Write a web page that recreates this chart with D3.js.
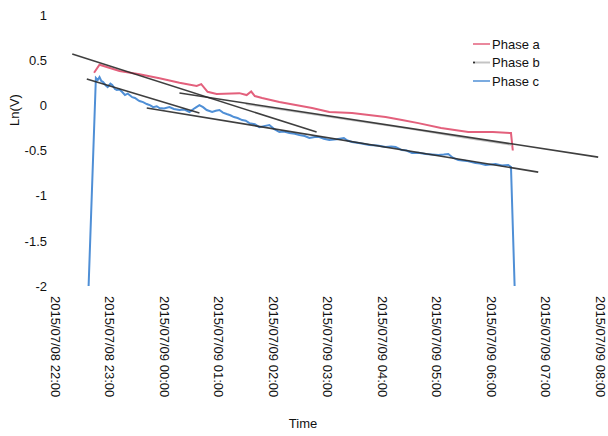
<!DOCTYPE html>
<html>
<head>
<meta charset="utf-8">
<script src="https://cdn.jsdelivr.net/npm/d3@7"></script>
<style>
  html, body { margin: 0; padding: 0; background: #fff; }
  svg { display: block; font-family: Arial, "Liberation Sans", sans-serif; }
</style>
</head>
<body>
<svg id="chart" width="608" height="436"></svg>
<script>
// ---- data (times are clock times on 2015/07/08 evening -> 2015/07/09 morning) ----
const seriesNames = ["Phase a", "Phase b", "Phase c"];
const yTicks = [1, 0.5, 0, -0.5, -1, -1.5, -2];

const phaseATimes = ["22:43","22:49","23:11","23:33","23:55","00:17","00:36","00:41","00:48","00:58",
  "01:23","01:31","01:36","01:40","01:48","02:07","02:25","02:43","03:02","03:27",
  "04:04","04:22","04:40","05:05","05:35","06:02","06:22","06:24"];
const phaseAValues = [0.36,0.45,0.38,0.345,0.30,0.25,0.215,0.235,0.15,0.125,
  0.135,0.114,0.153,0.103,0.081,0.037,0.003,-0.03,-0.074,-0.085,
  -0.13,-0.163,-0.197,-0.25,-0.296,-0.296,-0.307,-0.50];

const phaseBTimes = ["01:30","02:30","03:30","04:30","05:30","06:23"];
const phaseBValues = [0.012,-0.08,-0.17,-0.26,-0.36,-0.44];

const phaseCTimes = ["22:37","22:45","22:47","22:49","22:51","22:53","22:56","22:58","23:01","23:03",
  "23:06","23:08","23:11","23:14","23:17","23:20","23:22","23:25","23:28","23:31",
  "23:33","23:37","23:41","23:45","23:48","23:52","23:55","00:00","00:06","00:11",
  "00:17","00:22","00:28","00:34","00:39","00:43","00:47","00:53","00:57","01:01",
  "01:05","01:09","01:13","01:17","01:21","01:26","01:30","01:34","01:40","01:45",
  "01:50","01:56","02:01","02:07","02:12","02:18","02:24","02:29","02:35","02:40",
  "02:46","02:51","02:56","03:02","03:10","03:18","03:22","03:27","03:36","03:46",
  "03:55","04:04","04:10","04:15","04:22","04:27","04:33","04:40","04:48","04:55",
  "05:02","05:08","05:13","05:18","05:24","05:33","05:43","05:48","05:54","06:00",
  "06:05","06:12","06:19","06:22","06:26"];
const phaseCValues = [-2.0,0.302,0.28,0.313,0.27,0.258,0.22,0.203,0.24,0.225,
  0.18,0.169,0.175,0.147,0.114,0.13,0.114,0.09,0.081,0.06,
  0.048,0.035,0.014,0.0,-0.020,-0.01,-0.030,-0.035,-0.019,-0.04,
  -0.052,-0.045,-0.074,-0.030,0.003,-0.02,-0.052,-0.074,-0.06,-0.052,
  -0.08,-0.096,-0.11,-0.130,-0.14,-0.163,-0.17,-0.197,-0.21,-0.241,
  -0.23,-0.218,-0.26,-0.296,-0.29,-0.307,-0.315,-0.329,-0.34,-0.362,
  -0.35,-0.351,-0.37,-0.384,-0.375,-0.362,-0.39,-0.406,-0.42,-0.440,
  -0.445,-0.462,-0.455,-0.462,-0.495,-0.50,-0.528,-0.525,-0.539,-0.545,
  -0.550,-0.545,-0.539,-0.58,-0.606,-0.615,-0.639,-0.645,-0.661,-0.655,
  -0.650,-0.665,-0.661,-0.683,-2.0];

// fitted straight lines: [start time, start value, end time, end value]
const trendStartTimes = ["22:19","22:35","23:41","00:17"];
const trendStartValues = [0.568, 0.291, -0.030, 0.136];
const trendEndTimes = ["02:48","00:39","06:52","07:58"];
const trendEndValues = [-0.296, -0.085, -0.739, -0.573];

// ---- helpers ----
function toDate(hm) {
  const [h, m] = hm.split(":").map(Number);
  return h >= 12 ? new Date(2015, 6, 8, h, m) : new Date(2015, 6, 9, h, m);
}
function zip(ts, vs) { return ts.map((t, i) => ({ t: toDate(t), v: vs[i] })); }

const svg = d3.select("#chart");
const x = d3.scaleTime()
  .domain([new Date(2015, 6, 8, 22, 0), new Date(2015, 6, 9, 8, 0)])
  .range([55, 600]);
const y = d3.scaleLinear().domain([-2, 1]).range([286, 15]);

// ---- axes ----
const yAxis = svg.append("g").attr("transform", "translate(50,0)")
  .call(d3.axisLeft(y).tickValues(yTicks).tickSize(0).tickPadding(3).tickFormat(d => String(d)));
yAxis.select(".domain").remove();
yAxis.selectAll("text").attr("font-size", 13).attr("font-family", "Arial, 'Liberation Sans', sans-serif").attr("fill", "#111");

const xAxis = svg.append("g").attr("transform", "translate(0,286)")
  .call(d3.axisBottom(x).ticks(d3.timeHour.every(1)).tickSize(0).tickFormat(d3.timeFormat("%Y/%m/%d %H:%M")));
xAxis.select(".domain").remove();
xAxis.selectAll("text")
  .attr("font-size", 13).attr("font-family", "Arial, 'Liberation Sans', sans-serif").attr("fill", "#111")
  .attr("x", 10).attr("y", 0).attr("dy", "0.35em")
  .attr("transform", "rotate(90)")
  .style("text-anchor", "start");

svg.append("text").attr("x", 303).attr("y", 428).attr("text-anchor", "middle")
  .attr("font-size", 13).attr("fill", "#111").text("Time");
svg.append("text").attr("transform", "translate(19,110) rotate(-90)").attr("text-anchor", "middle")
  .attr("font-size", 13).attr("fill", "#111").text("Ln(V)");

// ---- series ----
const line = d3.line().x(d => x(d.t)).y(d => y(d.v));
const colors = ["#e3607c", "#c4c4c4", "#4f8fd6"];

svg.append("path").datum(zip(phaseATimes, phaseAValues))
  .attr("d", line).attr("fill", "none").attr("stroke", colors[0]).attr("stroke-width", 2);
svg.append("path").datum(zip(phaseBTimes, phaseBValues))
  .attr("d", line).attr("fill", "none").attr("stroke", colors[1]).attr("stroke-width", 1.5);
svg.append("path").datum(zip(phaseCTimes, phaseCValues))
  .attr("d", line).attr("fill", "none").attr("stroke", colors[2]).attr("stroke-width", 2);

// ---- fitted lines ----
trendStartTimes.forEach((t, i) => {
  const pts = [{ t: toDate(t), v: trendStartValues[i] }, { t: toDate(trendEndTimes[i]), v: trendEndValues[i] }];
  svg.append("path").datum(pts).attr("d", line).attr("fill", "none")
    .attr("stroke", "#2a2a2a").attr("stroke-width", 1.6).attr("opacity", 0.9);
});

// ---- legend ----
const lg = svg.append("g").attr("transform", "translate(473,44)");
seriesNames.forEach((name, i) => {
  const g = lg.append("g").attr("transform", `translate(0,${i * 18.5})`);
  g.append("line").attr("x1", 0).attr("x2", 17).attr("y1", 0).attr("y2", 0)
    .attr("stroke", colors[i]).attr("stroke-width", i === 1 ? 2 : 1.5);
  if (i === 1) g.append("circle").attr("cx", 1).attr("cy", 0).attr("r", 1).attr("fill", "#222");
  g.append("text").attr("x", 19).attr("y", 0).attr("dy", "0.35em")
    .attr("font-size", 13).attr("fill", "#111").text(name);
});
</script>
</body>
</html>
